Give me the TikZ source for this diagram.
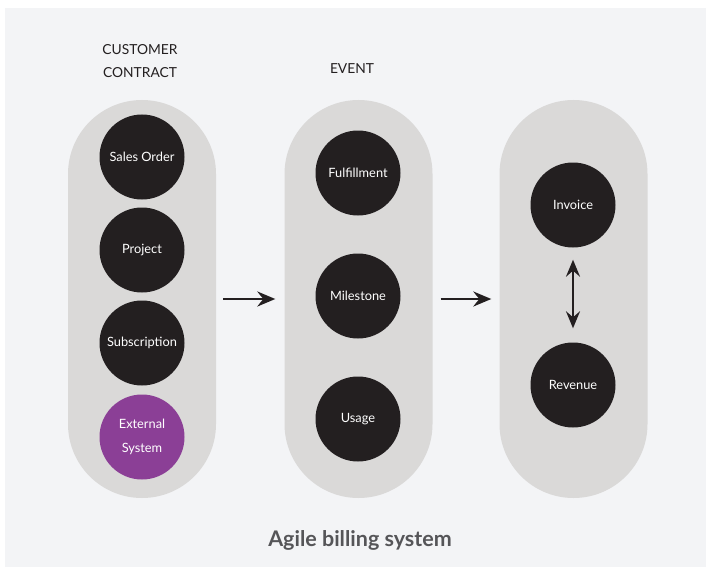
\documentclass[tikz,border=0pt]{standalone}
\usepackage{fontspec}
\setmainfont{Lato}
\usetikzlibrary{arrows.meta}
\definecolor{pagebg}{HTML}{F3F4F6}
\definecolor{pillgray}{HTML}{DAD9D8}
\definecolor{inkdark}{HTML}{231F20}
\definecolor{extpurple}{HTML}{8B3F96}
\definecolor{titlegray}{HTML}{555558}
\tikzset{
	pill/.style={fill=pillgray,draw=none,minimum width=148pt,minimum height=398pt,rounded corners=74pt,inner sep=0pt},
	stage/.style={circle,fill=inkdark,text=white,minimum size=85pt,inner sep=0pt,align=center,font=\fontsize{12.8}{24}\selectfont},
	heading/.style={text=inkdark,align=center,font=\fontsize{13.8}{23}\selectfont},
	flow/.style={inkdark,line width=2.8pt,-{Stealth[length=18pt,width=15pt,inset=6pt]}},
	both/.style={inkdark,line width=2.6pt,{Stealth[length=17pt,width=14pt,inset=6pt]}-{Stealth[length=17pt,width=14pt,inset=6pt]}}
}
\begin{document}
\begin{tikzpicture}[x=1pt,y=-1pt]
		\useasboundingbox (0,0) rectangle (706,567);
		\fill[white] (0,0) rectangle (706,567);
		\fill[pagebg] (5,8) rectangle (706,567);
		% the three columns
		\node[pill](colA) at (142,299){};
		\node[pill](colB) at (358.5,299){};
		\node[pill](colC) at (573.5,299){};
		% column headings
		\node[heading](hA) at (140,61.5){CUSTOMER\\CONTRACT};
		\node[heading](hB) at (352,69){EVENT};
		% customer contract
		\node[stage](sales) at (142,157){Sales Order};
		\node[stage](proj) at (142,250){Project};
		\node[stage](subs) at (142,343){Subscription};
		\node[stage,fill=extpurple](ext) at (142,437){External\\System};
		% event
		\node[stage](fulf) at (358,173){Fulfillment};
		\node[stage](mile) at (358,296){Milestone};
		\node[stage](usage) at (358,419){Usage};
		% billing
		\node[stage](inv) at (573,205){Invoice};
		\node[stage](rev) at (573,385){Revenue};
		\draw[flow,shorten <=7pt,shorten >=9pt](colA.east)--(colB.west);
		\draw[flow,shorten <=8pt,shorten >=8pt](colB.east)--(colC.west);
		\draw[both,shorten <=12pt,shorten >=14pt](inv)--(rev);
		\node[text=titlegray,font=\fontsize{21.5}{24}\bfseries\selectfont](title) at (360,540){Agile billing system};
	\end{tikzpicture}
\end{document}
